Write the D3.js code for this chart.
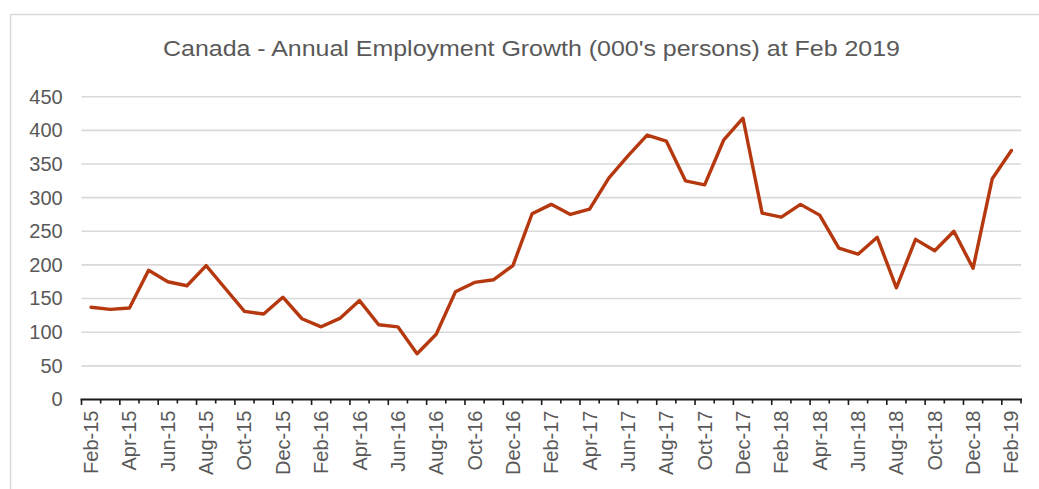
<!DOCTYPE html>
<html>
<head>
<meta charset="utf-8">
<script src="https://cdn.jsdelivr.net/npm/d3@7"></script>
<style>
  html, body { margin: 0; padding: 0; background: #fff; }
  svg { display: block; }
  text { font-family: "Liberation Sans", Arial, sans-serif; fill: #595959; }
</style>
</head>
<body>
<svg id="chart" width="1039" height="489"></svg>
<script>
// Monthly categories, Feb 2015 through Feb 2019
const months = [
  "Feb-15","Mar-15","Apr-15","May-15","Jun-15","Jul-15","Aug-15","Sep-15","Oct-15","Nov-15","Dec-15","Jan-16",
  "Feb-16","Mar-16","Apr-16","May-16","Jun-16","Jul-16","Aug-16","Sep-16","Oct-16","Nov-16","Dec-16","Jan-17",
  "Feb-17","Mar-17","Apr-17","May-17","Jun-17","Jul-17","Aug-17","Sep-17","Oct-17","Nov-17","Dec-17","Jan-18",
  "Feb-18","Mar-18","Apr-18","May-18","Jun-18","Jul-18","Aug-18","Sep-18","Oct-18","Nov-18","Dec-18","Jan-19",
  "Feb-19"
];

// Year-over-year employment change, thousands of persons
const growth = [
  137, 134, 136, 192, 175, 169, 199, 165, 131, 127, 152, 120,
  108, 121, 147, 111, 108, 68, 97, 160, 174, 178, 199, 276,
  290, 275, 283, 329, 362, 393, 384, 325, 319, 386, 418, 277,
  271, 290, 274, 225, 216, 241, 166, 238, 221, 250, 195, 328,
  370
];

const yTicks = [0, 50, 100, 150, 200, 250, 300, 350, 400, 450];
const title = "Canada - Annual Employment Growth (000's persons) at Feb 2019";

const svg = d3.select("#chart");

// Outer chart frame
svg.append("rect")
  .attr("x", 10.5).attr("y", 14.5)
  .attr("width", 1040).attr("height", 490)
  .attr("fill", "#fff")
  .attr("stroke", "#D9D9D9").attr("stroke-width", 1.5);

const plot = { left: 81.5, right: 1021, top: 96.7, bottom: 399.5 };

const x = d3.scaleBand()
  .domain(months)
  .range([plot.left, plot.right])
  .paddingInner(0).paddingOuter(0);

const y = d3.scaleLinear()
  .domain([0, 450])
  .range([plot.bottom, plot.top]);

// Title, fitted to its full width
svg.append("text")
  .attr("x", 531.5).attr("y", 56)
  .attr("text-anchor", "middle")
  .attr("textLength", 737)
  .attr("lengthAdjust", "spacingAndGlyphs")
  .style("font-size", "22px")
  .text(title);

// Horizontal gridlines
svg.append("g")
  .selectAll("line")
  .data(yTicks.filter(d => d > 0))
  .join("line")
  .attr("x1", plot.left).attr("x2", plot.right)
  .attr("y1", d => y(d)).attr("y2", d => y(d))
  .attr("stroke", "#D9D9D9").attr("stroke-width", 1.6);

// Y axis labels
const yAxis = d3.axisLeft(y).tickValues(yTicks).tickSize(0).tickPadding(0);
const gy = svg.append("g")
  .attr("transform", `translate(${62.7},0)`)
  .call(yAxis);
gy.select(".domain").remove();
gy.selectAll("text")
  .style("font-size", "20px")
  .style("fill", "#595959")
  .style("font-family", "'Liberation Sans', Arial, sans-serif");

// X axis baseline with boundary ticks (longer at every labelled month)
const gx = svg.append("g");
gx.append("line")
  .attr("x1", plot.left - 1).attr("x2", plot.right + 1)
  .attr("y1", plot.bottom).attr("y2", plot.bottom)
  .attr("stroke", "#1a1a1a").attr("stroke-width", 1.8);

const boundaries = months.map(m => x(m)).concat([plot.right]);
gx.selectAll("line.tick")
  .data(boundaries)
  .join("line")
  .attr("class", "tick")
  .attr("x1", d => d).attr("x2", d => d)
  .attr("y1", plot.bottom)
  .attr("y2", (d, i) => plot.bottom + (i % 2 === 0 ? 5.5 : 4))
  .attr("stroke", "#1a1a1a").attr("stroke-width", 1.6);

// Month labels, every second month, rotated
gx.selectAll("text")
  .data(months.filter((m, i) => i % 2 === 0))
  .join("text")
  .attr("transform", d => `translate(${x(d) + x.bandwidth() / 2 + 7},${plot.bottom + 11}) rotate(-90)`)
  .attr("text-anchor", "end")
  .style("font-size", "20px")
  .text(d => d);

// Employment growth line
const line = d3.line()
  .x((d, i) => x(months[i]) + x.bandwidth() / 2)
  .y(d => y(d));

svg.append("path")
  .datum(growth)
  .attr("d", line)
  .attr("fill", "none")
  .attr("stroke", "#B5380F")
  .attr("stroke-width", 3.4)
  .attr("stroke-linejoin", "round")
  .attr("stroke-linecap", "round");
</script>
</body>
</html>
